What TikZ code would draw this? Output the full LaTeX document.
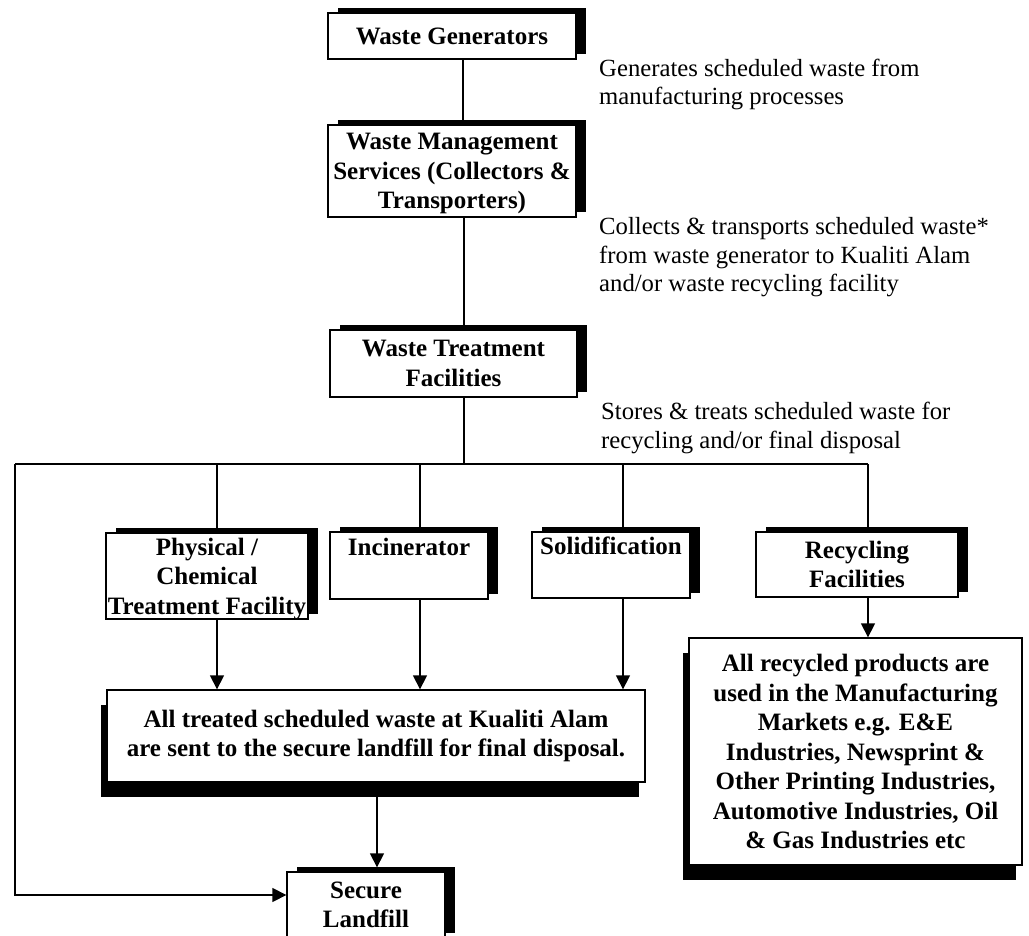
\documentclass[tikz,border=0pt]{standalone}
\usepackage{fontspec}
\setmainfont{Liberation Serif}
\usetikzlibrary{arrows.meta,shadows}
\begin{document}
\begin{tikzpicture}[x=1pt,y=-1pt,
  box/.style={draw=black, fill=white, line width=1.3pt, inner sep=0pt, align=center,
    font=\bfseries\fontsize{25}{29.5}\selectfont},
  lowtext/.style={text depth=0pt},
  shUR/.style={general shadow={fill=black, shadow xshift=10pt, shadow yshift=5pt}},
  shDL/.style={general shadow={fill=black, shadow xshift=-6pt, shadow yshift=-15pt}},
  note/.style={inner sep=0pt, align=left, anchor=base west,
    font=\fontsize{24.7}{28.7}\selectfont},
  link/.style={line width=1.3pt},
  arr/.style={line width=1.3pt, -{Triangle[length=14pt,width=14pt]}}]
\useasboundingbox (0,0) rectangle (1029,936);

% boxes
\node[box, shUR, minimum width=248pt, minimum height=46pt] (gen) at (452,36) {Waste Generators};
\node[box, shUR, lowtext, minimum width=248pt, minimum height=92pt] (wms) at (452,171)
  {Waste Management\\Services (Collectors \&\\Transporters)};
\node[box, shUR, minimum width=247pt, minimum height=67pt] (wtf) at (453.5,363.5)
  {Waste Treatment\\Facilities};
\node[box, shUR, lowtext, minimum width=202pt, minimum height=86pt] (phys) at (207,576)
  {Physical /\\Chemical\\Treatment Facility};
\node[box, shUR, minimum width=158pt, minimum height=67pt] (inc) at (409,565.5)
  {Incinerator\\\strut};
\node[box, shUR, minimum width=158pt, minimum height=66pt] (sol) at (611,565)
  {Solidification\\\strut};
\node[box, shUR, minimum width=202pt, minimum height=65pt] (rec) at (857,564.5)
  {Recycling\\Facilities};
\node[box, shDL, minimum width=538pt, minimum height=92pt] (trt) at (376,736)
  {All treated scheduled waste at Kualiti Alam\\are sent to the secure landfill for final disposal.};
\node[box, shDL, minimum width=333pt, minimum height=227pt] (prod) at (855.5,751.5)
  {All recycled products are\\used in the Manufacturing\\Markets e.g. E\&E\\Industries, Newsprint \&\\Other Printing Industries,\\Automotive Industries, Oil\\\& Gas Industries etc};
\node[box, shUR, minimum width=158pt, minimum height=66pt] (land) at (366,905)
  {Secure\\Landfill};

% side notes (anchor at baseline of last line)
\node[note] (n1) at (599,105) {Generates scheduled waste from\\manufacturing processes};
\node[note] (n2) at (599,292) {Collects \& transports scheduled waste*\\from waste generator to Kualiti Alam\\and/or waste recycling facility};
\node[note] (n3) at (601,448) {Stores \& treats scheduled waste for\\recycling and/or final disposal};

% guide coordinates
\coordinate (c1) at (463,0);
\coordinate (c2) at (464,0);
\coordinate (bl) at (15,464);
\coordinate (br) at (868,464);
\coordinate (d1) at (217,0);
\coordinate (d2) at (420,0);
\coordinate (d3) at (623,0);
\coordinate (d5) at (377,0);
\coordinate (lc) at (15,895);

% connectors
\draw[link] (gen.south -| c1) -- (wms.north -| c1);
\draw[link] (wms.south -| c2) -- (wtf.north -| c2);
\draw[link] (wtf.south -| c2) -- (c2 |- bl);
\draw[link] (bl) -- (br);
\draw[link] (d1 |- bl) -- (phys.north -| d1);
\draw[link] (d2 |- bl) -- (inc.north -| d2);
\draw[link] (d3 |- bl) -- (sol.north -| d3);
\draw[link] (br) -- (rec.north -| br);
\draw[arr] (phys.south -| d1) -- (trt.north -| d1);
\draw[arr] (inc.south -| d2) -- (trt.north -| d2);
\draw[arr] (sol.south -| d3) -- (trt.north -| d3);
\draw[arr] (rec.south -| br) -- (prod.north -| br);
\draw[arr] (trt.south -| d5) -- ([yshift=4pt]land.north -| d5);
\draw[arr] (bl) -- (lc) -- (lc -| land.west);
\end{tikzpicture}
\end{document}
